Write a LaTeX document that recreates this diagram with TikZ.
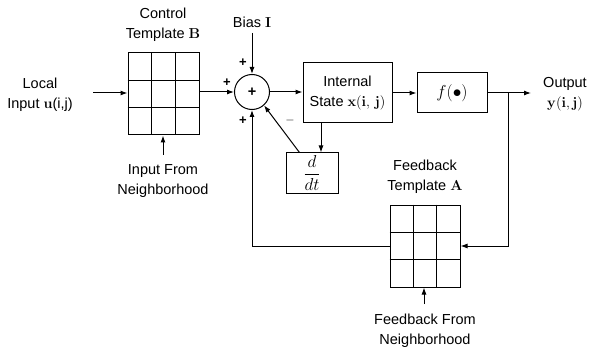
\documentclass[tikz,border=0pt]{standalone}
\usepackage{amsmath}
\usepackage[no-math]{fontspec}
\setmainfont{Liberation Sans}
\usetikzlibrary{arrows.meta,calc}

\begin{document}
\begin{tikzpicture}[x=1pt,y=-1pt,font=\fontsize{14.5}{20}\selectfont]
  \tikzset{blockbox/.style={draw=black,line width=1pt,inner sep=0pt}}
  \tikzset{gridbox/.style={blockbox,minimum width=71pt,minimum height=82pt}}
  \tikzset{sumnode/.style={draw=black,line width=1pt,circle,minimum size=35pt,inner sep=0pt}}
  \tikzset{sigline/.style={draw=black,line width=1pt}}
  \tikzset{sigarrow/.style={sigline,-{Latex[length=7pt,width=5pt]}}}
  \tikzset{textlabel/.style={align=center,inner sep=1pt}}
  \tikzset{signlabel/.style={font=\fontsize{13}{13}\selectfont\bfseries,inner sep=0pt}}
  \useasboundingbox (0,0) rectangle (598,353);
  % blocks
  \node[gridbox] (B) at (163.5,94) {};
  \node[gridbox,minimum width=70pt] (A) at (425,246) {};
  \node[sumnode] (sum) at (252,92) {\textbf{+}};
  \node[blockbox,minimum width=89pt,minimum height=60pt,textlabel] (state) at (347.5,93) {Internal\\State $\mathbf{x(i,\,j)}$};
  \node[blockbox,minimum width=70pt,minimum height=40pt,font=\fontsize{18}{18}\selectfont] (f) at (452,93) {$f(\bullet)$};
  \node[blockbox,minimum width=52pt,minimum height=40pt,font=\fontsize{16}{16}\selectfont] (ddt) at (312,173) {$\dfrac{d}{dt}$};
  % template grids
  \foreach \t in {B,A} {
    \draw[sigline] ($(\t.north west)!1/3!(\t.north east)$) -- ($(\t.south west)!1/3!(\t.south east)$);
    \draw[sigline] ($(\t.north west)!2/3!(\t.north east)$) -- ($(\t.south west)!2/3!(\t.south east)$);
    \draw[sigline] ($(\t.north west)!1/3!(\t.south west)$) -- ($(\t.north east)!1/3!(\t.south east)$);
    \draw[sigline] ($(\t.north west)!2/3!(\t.south west)$) -- ($(\t.north east)!2/3!(\t.south east)$);
  }
  % labels
  \node[textlabel] (ctrl) at (163,25) {Control\\Template $\mathbf{B}$};
  \node[textlabel] (bias) at (252,22) {Bias $\mathbf{I}$};
  \node[textlabel] (local) at (40,95) {Local\\Input $\mathbf{u}$(i,j)};
  \node[textlabel] (inlbl) at (163,181) {Input From\\Neighborhood};
  \node[textlabel] (fblbl) at (425,177) {Feedback\\Template $\mathbf{A}$};
  \node[textlabel] (nblbl) at (425,331) {Feedback From\\Neighborhood};
  \node[textlabel] (outlbl) at (565,94) {Output\\$\mathbf{y(i,j)}$};
  \node[signlabel] at (243,63) {+};
  \node[signlabel] at (227,83) {+};
  \node[signlabel] at (243,121) {+};
  \node[signlabel] at (290,121) {$-$};
  % free ends
  \coordinate (uin) at (93,93);
  \coordinate (biasin) at (252,33);
  \coordinate (inb) at (163,155);
  \coordinate (ina) at (424,304);
  \coordinate (junc) at (508,93);
  \coordinate (yout) at (531,93);
  \coordinate (ddtin) at ([xshift=9pt]ddt.north);
  \coordinate (minus) at ([xshift=14pt]ddt.north west);
  % connectors
  \draw[sigarrow] (uin) -- (B.west |- uin);
  \draw[sigarrow] (B.east |- sum) -- (sum.west);
  \draw[sigarrow] (biasin) -- (sum.north);
  \draw[sigarrow] (sum.east) -- (state.west |- sum);
  \draw[sigarrow] (state.east |- f) -- (f.west);
  \draw[sigline] (f.east) -- (junc);
  \draw[sigarrow] (junc) -- (yout);
  \draw[sigarrow] (state.south -| ddtin) -- (ddtin);
  \draw[sigarrow] (minus) -- (sum.-48);
  \draw[sigarrow] (junc) |- (A.east);
  \draw[sigarrow] (A.west) -| (sum.south);
  \draw[sigarrow] (inb) -- (B.south -| inb);
  \draw[sigarrow] (ina) -- (A.south -| ina);
\end{tikzpicture}
\end{document}
